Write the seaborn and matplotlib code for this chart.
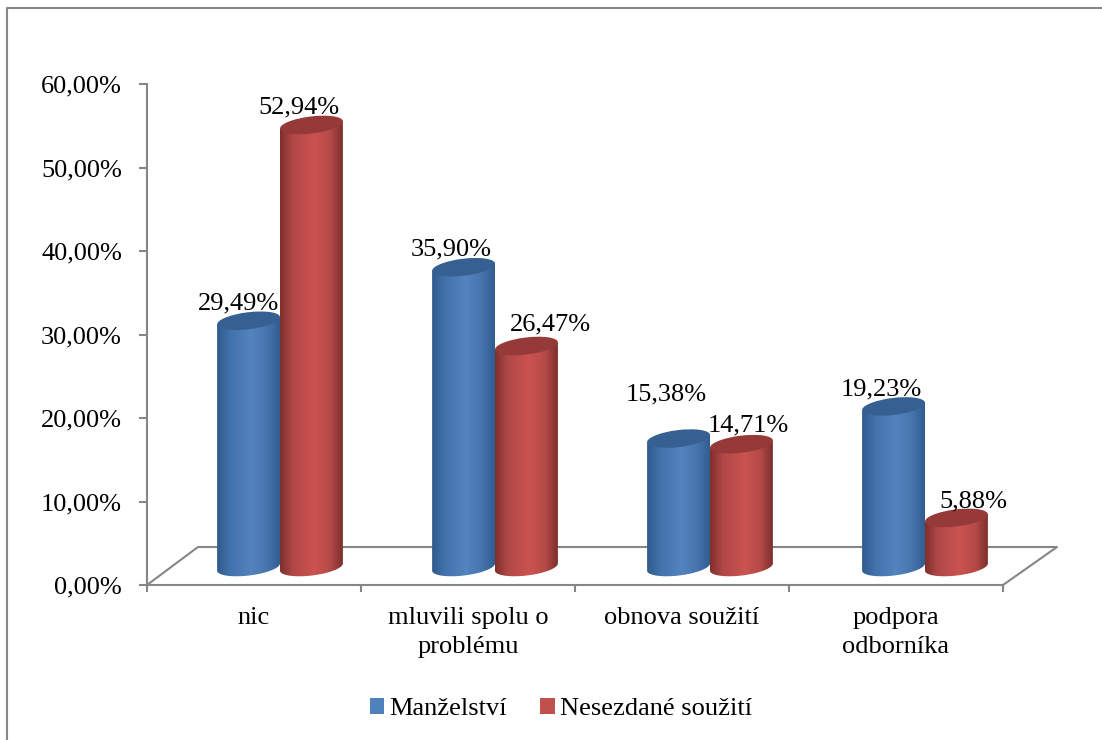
#!/usr/bin/env python

import matplotlib.pyplot as plt
from matplotlib.colors import LinearSegmentedColormap
from matplotlib.lines import Line2D
from matplotlib.patches import Ellipse, Patch, PathPatch
from matplotlib.path import Path
from matplotlib.transforms import Affine2D, IdentityTransform
import seaborn as sns
import pandas as pd
import numpy as np

# ===================== DATA =====================

categories = ["nic", "mluvili spolu o\nproblému", "obnova soužití", "podpora\nodborníka"]
manzelstvi = [29.49, 35.90, 15.38, 19.23]
nesezdane = [52.94, 26.47, 14.71, 5.88]
series_names = ["Manželství", "Nesezdané soužití"]
y_ticks = [0, 10, 20, 30, 40, 50, 60]

# ===================== STYLE =====================

W, H = 1102, 740
GREY = "#868686"
FONT_SIZE = 19

# label nudges in pixels, same order as the bars (all blue, then all red)
label_dx = [-10, -12, -12, -12, -13, 24, 7, 17]
label_dy = [17, 18, 44, 17, 17, 22, 19, 16]

blue_map = LinearSegmentedColormap.from_list(
    "blue_cyl", [(0, "#2f5a8c"), (0.2, "#4272ab"), (0.55, "#5384be"), (0.8, "#4674ad"), (1, "#315d90")]
)
red_map = LinearSegmentedColormap.from_list(
    "red_cyl", [(0, "#802f2d"), (0.2, "#b04846"), (0.55, "#cb5350"), (0.8, "#b54a47"), (1, "#7e2f2d")]
)
top_colors = ["#376092", "#953a38"]
legend_colors = ["#4f81bd", "#c0504d"]

sns.set_theme(style="white")
plt.rcParams["font.family"] = ["Liberation Serif", "DejaVu Serif"]


def px(x, y):
    """Reference pixel (y down) to display coordinates (y up)."""
    return x, H - y


def fig_box(left, top, right, bottom):
    return [left / W, (H - bottom) / H, (right - left) / W, (bottom - top) / H]


df = pd.DataFrame(
    {"kategorie": categories, series_names[0]: manzelstvi, series_names[1]: nesezdane}
).melt(id_vars="kategorie", var_name="serie", value_name="hodnota")

fig = plt.figure(figsize=(W / 100, H / 100), dpi=100, facecolor="white")

# ===================== AXES =====================

ax = fig.add_axes(fig_box(147, 84, 1003, 585))
ax.set_xlim(-0.5, 3.5)
ax.set_ylim(0, 60)
sns.despine(ax=ax)
for side in ["left", "bottom"]:
    ax.spines[side].set_color(GREY)
    ax.spines[side].set_linewidth(1.5)

ax.set_yticks(y_ticks, [f"{v:.2f}".replace(".", ",") + "%" for v in y_ticks], fontsize=FONT_SIZE, color="black")
ax.set_xticks(np.arange(-0.5, 4, 1), [""] * 5)
ax.set_xticks(np.arange(4), categories, minor=True, fontsize=FONT_SIZE, color="black", linespacing=1.38)
ax.tick_params(axis="y", which="major", left=True, length=6, width=1.5, color=GREY, pad=12)
ax.tick_params(axis="x", which="major", bottom=True, length=5, width=1.5, color=GREY)
ax.tick_params(axis="x", which="minor", bottom=False, length=0, pad=16)

# floor of the 3D chart
floor = [px(147, 585), px(198, 547), px(1057, 547), px(1003, 585)]
ax.add_line(
    Line2D(*zip(*floor), color=GREY, lw=1.5, transform=IdentityTransform(), clip_on=False)
)

# ===================== BARS =====================

# the bars sit on the back of the floor, so they get their own shifted axes
bars_ax = fig.add_axes(fig_box(172.5, 84 - 18, 1032.5, 585 - 18))
bars_ax.patch.set_alpha(0)

sns.barplot(
    data=df,
    x="kategorie",
    y="hodnota",
    hue="serie",
    hue_order=series_names,
    palette=legend_colors,
    width=0.585,
    gap=0,
    legend=False,
    ax=bars_ax,
)
bars_ax.set_xlim(-0.5, 3.5)
bars_ax.set_ylim(0, 60)
bars_ax.set_autoscale_on(False)
bars_ax.axis("off")

gradient = np.linspace(0, 1, 128).reshape(1, -1)
ell_h = 17
tilt_deg = 7
tilt = np.deg2rad(tilt_deg)
cos_t, sin_t = np.cos(tilt), np.sin(tilt)

bars = list(bars_ax.patches)
for i, bar in enumerate(bars):
    s = i // 4
    z = 3 + s * 10 + (i % 4)
    x0, w, v = bar.get_x(), bar.get_width(), bar.get_height()
    bar.set_visible(False)

    (left, base), (right, top) = bars_ax.transData.transform([(x0, 0), (x0 + w, v)])
    cx = (left + right) / 2
    a = (right - left) / 2 / cos_t
    b = ell_h / 2

    # body: straight sides, lower arc of the base ellipse
    t = np.linspace(np.pi, 2 * np.pi, 40)
    arc_x = cx + a * np.cos(t) * cos_t - b * np.sin(t) * sin_t
    arc_y = base + a * np.cos(t) * sin_t + b * np.sin(t) * cos_t
    verts = np.column_stack([arc_x, arc_y])
    verts = np.vstack(
        [verts, [cx + a * cos_t, top + a * sin_t], [cx - a * cos_t, top - a * sin_t], verts[0]]
    )
    body = Path(verts)

    im = bars_ax.imshow(
        gradient,
        cmap=[blue_map, red_map][s],
        extent=(x0, x0 + w, -3, v + 2),
        aspect="auto",
        zorder=z,
        interpolation="bilinear",
    )
    # the lower arc hangs below the axes, so clip to the figure and the body only
    im.set_clip_box(fig.bbox)
    im.set_clip_path(PathPatch(body, transform=IdentityTransform()))

    bars_ax.add_patch(
        Ellipse(
            (0, 0),
            2 * a,
            ell_h,
            angle=tilt_deg,
            facecolor=top_colors[s],
            edgecolor="none",
            transform=Affine2D().translate(cx, top),
            clip_on=False,
            zorder=z + 0.5,
        )
    )

    label = f"{v:.2f}".replace(".", ",") + "%"
    bars_ax.annotate(
        label,
        xy=(x0 + w / 2, v),
        xytext=(label_dx[i], label_dy[i]),
        textcoords="offset pixels",
        ha="center",
        va="center",
        fontsize=FONT_SIZE,
        color="black",
        annotation_clip=False,
        zorder=50,
    )

bars_ax.set_xlim(-0.5, 3.5)
bars_ax.set_ylim(0, 60)

# ===================== LEGEND =====================

handles = [Patch(facecolor=c, edgecolor="none", label=n) for c, n in zip(legend_colors, series_names)]
fig.legend(
    handles=handles,
    loc="center",
    bbox_to_anchor=(561 / W, (H - 709) / H),
    ncol=2,
    frameon=False,
    fontsize=FONT_SIZE,
    handlelength=0.55,
    handleheight=0.55,
    handletextpad=0.2,
    columnspacing=1.25,
    labelcolor="black",
)

# ===================== OUTER FRAME =====================

frame = [px(7, H), px(7, 8), px(W, 8)]
fig.add_artist(Line2D(*zip(*frame), color=GREY, lw=1.5, transform=IdentityTransform()))

fig.savefig("out.png", dpi=100)
